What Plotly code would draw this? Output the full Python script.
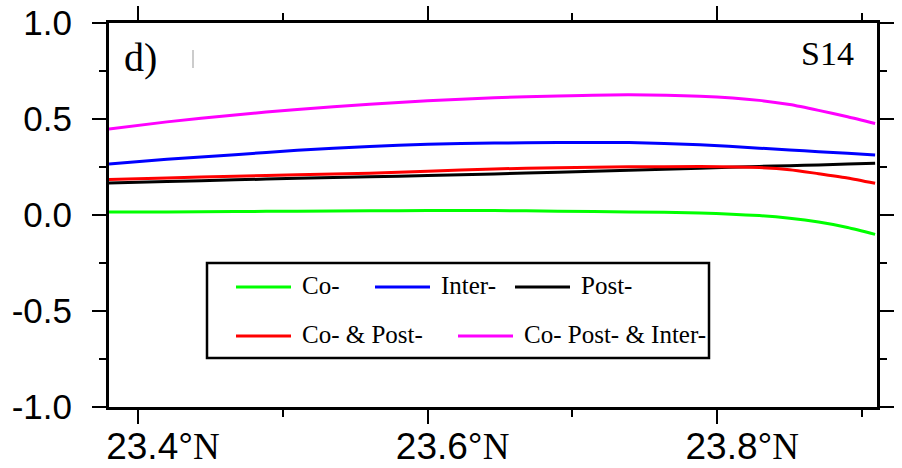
import plotly.graph_objects as go

# ---- data ----
lat = [23.38, 23.42, 23.467, 23.51, 23.56, 23.60, 23.646, 23.69, 23.739, 23.788, 23.829, 23.85, 23.87, 23.89, 23.909]
co = [0.015, 0.016, 0.018, 0.020, 0.022, 0.023, 0.023, 0.020, 0.016, 0.011, -0.003, -0.017, -0.037, -0.065, -0.101]
inter = [0.266, 0.290, 0.314, 0.337, 0.357, 0.368, 0.375, 0.377, 0.377, 0.366, 0.348, 0.339, 0.330, 0.321, 0.313]
post = [0.167, 0.174, 0.183, 0.191, 0.199, 0.206, 0.214, 0.223, 0.233, 0.244, 0.253, 0.257, 0.261, 0.265, 0.269]
co_post = [0.185, 0.193, 0.202, 0.210, 0.218, 0.228, 0.240, 0.246, 0.251, 0.252, 0.247, 0.236, 0.215, 0.193, 0.165]
co_post_inter = [0.448, 0.485, 0.521, 0.550, 0.577, 0.595, 0.611, 0.620, 0.626, 0.618, 0.597, 0.575, 0.545, 0.512, 0.477]

series_names = ["Co-", "Inter-", "Post-", "Co- & Post-", "Co- Post- & Inter-"]
series_vals = [co, inter, post, co_post, co_post_inter]
series_colors = ["#00ff00", "#0000ff", "#000000", "#ff0000", "#ff00ff"]

x_ticks = [23.4, 23.6, 23.8]
x_ticklabels = ["23.4°<span style='font-family:Liberation Serif'>N</span>",
                "23.6°<span style='font-family:Liberation Serif'>N</span>",
                "23.8°<span style='font-family:Liberation Serif'>N</span>"]
y_ticks = [1.0, 0.5, 0.0, -0.5, -1.0]
y_ticklabels = ["1.0", "0.5", "0.0", "-0.5", "-1.0"]

X0, X1 = 23.38, 23.9103
Y0, Y1 = -1.0, 1.0
W, H = 902, 468
SL, ST, PW, PH = 109, 23, 768, 384   # plot area in screen pixels
ML, MT = SL, ST
MR = W - ML - PW
MB = H - MT - PH

def px2x(px):
    return X0 + (px - SL) / PW * (X1 - X0)

def py2y(py):
    return Y1 - (py - ST) / PH * (Y1 - Y0)

fig = go.Figure()
for name, vals, col in zip(series_names, series_vals, series_colors):
    fig.add_trace(go.Scatter(x=lat, y=vals, mode="lines", name=name,
                             line=dict(color=col, width=3, shape="spline", smoothing=0.6),
                             showlegend=False))

# ---- manual legend (GMT style box) ----
shapes = []
annotations = []
shapes.append(dict(type="rect", xref="x", yref="y",
                   x0=px2x(207), x1=px2x(709), y0=py2y(263), y1=py2y(358),
                   line=dict(color="black", width=2.5), fillcolor="white", layer="above"))
legend_pos = [(236, 287), (375, 287), (515, 287), (236, 336), (458, 336)]
for (lx, ly), name, col in zip(legend_pos, series_names, series_colors):
    shapes.append(dict(type="line", xref="x", yref="y",
                       x0=px2x(lx), x1=px2x(lx + 55), y0=py2y(ly), y1=py2y(ly),
                       line=dict(color=col, width=3), layer="above"))
    annotations.append(dict(x=px2x(lx + 64), y=py2y(ly - 2), xref="x", yref="y",
                            text=name, showarrow=False, xanchor="left", yanchor="middle",
                            font=dict(family="Liberation Serif", size=25, color="black")))

annotations.append(dict(x=px2x(122), y=py2y(57), xref="x", yref="y", text="d)",
                        showarrow=False, xanchor="left", yanchor="middle",
                        font=dict(family="Liberation Serif", size=40, color="black")))
annotations.append(dict(x=px2x(856), y=py2y(53), xref="x", yref="y", text="S14",
                        showarrow=False, xanchor="right", yanchor="middle",
                        font=dict(family="Liberation Serif", size=34, color="black")))
# small grey scan mark near the panel label
shapes.append(dict(type="line", xref="x", yref="y", x0=px2x(193), x1=px2x(193),
                   y0=py2y(50), y1=py2y(68), line=dict(color="#999999", width=1)))

fig.update_layout(
    width=W, height=H,
    margin=dict(l=ML, r=MR, t=MT, b=MB, autoexpand=False),
    paper_bgcolor="white", plot_bgcolor="white",
    shapes=shapes, annotations=annotations,
    showlegend=False,
)
fig.update_xaxes(range=[X0, X1], tickvals=x_ticks, ticktext=x_ticklabels,
                 ticks="outside", ticklen=14, tickwidth=1.5, tickcolor="black",
                 showline=True, linewidth=3, linecolor="black", mirror="ticks",
                 showgrid=False, zeroline=False, automargin=False,
                 tickfont=dict(family="Liberation Sans", size=37, color="black"),
                 ticklabelshift=25, ticklabelstandoff=-9, ticklabeloverflow="allow",
                 minor=dict(dtick=0.1, tick0=23.4, ticks="outside", ticklen=7, tickwidth=1.5,
                            tickcolor="black", showgrid=False))
fig.update_yaxes(range=[Y0, Y1], tickvals=y_ticks, ticktext=y_ticklabels,
                 ticks="outside", ticklen=14, tickwidth=1.5, tickcolor="black",
                 showline=True, linewidth=3, linecolor="black", mirror="ticks",
                 showgrid=False, zeroline=False, automargin=False,
                 tickfont=dict(family="Liberation Sans", size=35, color="black"),
                 ticklabelstandoff=13, ticklabeloverflow="allow",
                 minor=dict(dtick=0.25, tick0=0, ticks="outside", ticklen=7, tickwidth=1.5,
                            tickcolor="black", showgrid=False))

fig.write_html("out.html", config={"displayModeBar": False},
               post_script="document.body.style.margin='0px';")
